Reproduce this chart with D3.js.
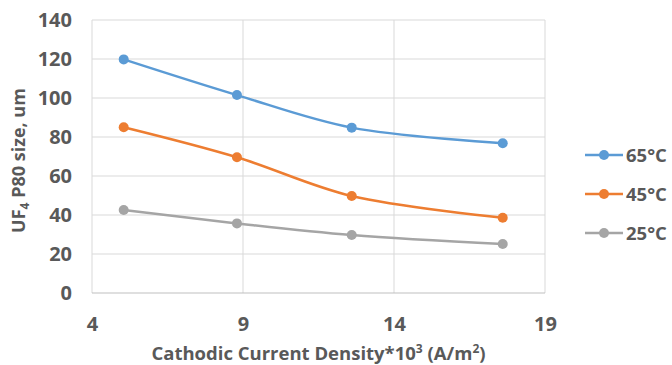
<!DOCTYPE html>
<html>
<head>
<meta charset="utf-8">
<script src="https://cdn.jsdelivr.net/npm/d3@7"></script>
<style>
  body { margin: 0; background: #fff; }
  text { font-family: "Open Sans", sans-serif; font-weight: bold; fill: #595959; }
</style>
</head>
<body>
<div id="chart"></div>
<script>
// values
var density = [5.05, 8.8, 12.6, 17.6];
var t65 = [119.8, 101.5, 84.8, 76.8];
var t45 = [85, 69.6, 49.7, 38.6];
var t25 = [42.6, 35.7, 29.7, 25.1];
var seriesNames = ["65°C", "45°C", "25°C"];
var colors = ["#5b9bd5", "#ed7d31", "#a5a5a5"];
var xTicks = [4, 9, 14, 19];
var yTicks = [0, 20, 40, 60, 80, 100, 120, 140];

var series = [t65, t45, t25].map(function(vals, i) {
  return { name: seriesNames[i], color: colors[i],
           points: vals.map(function(v, j) { return { x: density[j], y: v }; }) };
});

var W = 672, H = 365;
var margin = {top: 20, right: 127, bottom: 72, left: 92},
    width = W - margin.left - margin.right,
    height = H - margin.top - margin.bottom;

var svg = d3.select("#chart").append("svg")
  .attr("width", W).attr("height", H);
var g = svg.append("g")
  .attr("transform", "translate(" + margin.left + "," + margin.top + ")");

var x = d3.scaleLinear().domain([4, 19]).range([0, width]);
var y = d3.scaleLinear().domain([0, 140]).range([height, 0]);

// gridlines
g.append("g").selectAll("line").data(yTicks.slice(1)).enter().append("line")
  .attr("x1", 0).attr("x2", width)
  .attr("y1", function(d) { return y(d); }).attr("y2", function(d) { return y(d); })
  .attr("stroke", "#d9d9d9").attr("stroke-width", 1);
g.append("g").selectAll("line").data(xTicks).enter().append("line")
  .attr("x1", function(d) { return x(d); }).attr("x2", function(d) { return x(d); })
  .attr("y1", 0).attr("y2", height)
  .attr("stroke", "#d9d9d9").attr("stroke-width", 1);
// bottom axis line
g.append("line").attr("x1", 0).attr("x2", width).attr("y1", height).attr("y2", height)
  .attr("stroke", "#bfbfbf").attr("stroke-width", 1);

// axes (labels only)
var yAxis = g.append("g").call(d3.axisLeft(y).tickValues(yTicks).tickSize(0).tickPadding(20));
var xAxis = g.append("g").attr("transform", "translate(0," + height + ")")
  .call(d3.axisBottom(x).tickValues(xTicks).tickSize(0).tickPadding(24));
[yAxis, xAxis].forEach(function(a) {
  a.select(".domain").remove();
  a.selectAll("text").style("font-size", "20px").attr("fill", "#595959")
    .style("font-family", "'Open Sans', sans-serif");
});

// lines
var line = d3.line()
  .x(function(d) { return x(d.x); })
  .y(function(d) { return y(d.y); })
  .curve(d3.curveCatmullRom.alpha(0.5));

series.forEach(function(s) {
  g.append("path").datum(s.points)
    .attr("d", line)
    .attr("fill", "none")
    .attr("stroke", s.color)
    .attr("stroke-width", 2.5);
  g.selectAll(null).data(s.points).enter().append("circle")
    .attr("cx", function(d) { return x(d.x); })
    .attr("cy", function(d) { return y(d.y); })
    .attr("r", 5)
    .attr("fill", s.color);
});

// legend
var legend = svg.append("g").attr("transform", "translate(585,155)");
series.forEach(function(s, i) {
  var row = legend.append("g").attr("transform", "translate(0," + i * 39 + ")");
  row.append("line").attr("x1", 0).attr("x2", 38).attr("y1", 0).attr("y2", 0)
    .attr("stroke", s.color).attr("stroke-width", 2.5);
  row.append("circle").attr("cx", 19).attr("cy", 0).attr("r", 5).attr("fill", s.color);
  row.append("text").attr("x", 41).attr("y", 0).attr("dy", "0.36em")
    .style("font-size", "18.5px").text(s.name);
});

// axis titles
var xt = svg.append("text")
  .attr("x", margin.left + width / 2).attr("y", 360)
  .attr("text-anchor", "middle").style("font-size", "18.5px");
xt.append("tspan").text("Cathodic Current Density*10");
xt.append("tspan").attr("dy", -7).style("font-size", "12px").text("3");
xt.append("tspan").attr("dy", 7).text(" (A/m");
xt.append("tspan").attr("dy", -7).style("font-size", "12px").text("2");
xt.append("tspan").attr("dy", 7).text(")");

var yt = svg.append("text")
  .attr("transform", "translate(25," + (margin.top + height / 2 + 4) + ") rotate(-90)")
  .attr("text-anchor", "middle").style("font-size", "18px");
yt.append("tspan").text("UF");
yt.append("tspan").attr("dy", 4).style("font-size", "12px").text("4");
yt.append("tspan").attr("dy", -4).text(" P80 size, um");
</script>
</body>
</html>
